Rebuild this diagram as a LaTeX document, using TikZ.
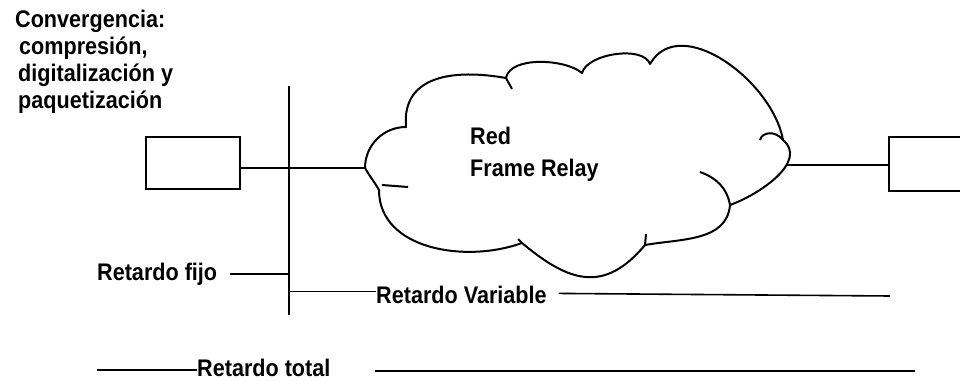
\documentclass[tikz,border=0pt]{standalone}
\usepackage{fontspec}
\setmainfont{Liberation Sans}[FakeStretch=0.9]
\begin{document}
\begin{tikzpicture}[x=1pt,y=1pt,
  lbl/.style={font=\fontsize{24}{28}\selectfont\bfseries, inner sep=0pt, text=black},
  boxnode/.style={draw=black, line width=2pt, rectangle, inner sep=0pt, fill=white},
  conn/.style={draw=black, line width=1.6pt},
  cloudline/.style={draw=black, line width=2pt, line join=round}]
\useasboundingbox (0,0) rectangle (960,380);
\clip (0,0) rectangle (960,380);
\fill[white] (0,0) rectangle (960,380);

% left text block
\node[lbl, anchor=base west] (t1) at (15,352) {Convergencia:};
\node[lbl, anchor=base west] (t2) at (19,325) {compresión,};
\node[lbl, anchor=base west] (t3) at (18,298) {digitalización y};
\node[lbl, anchor=base west] (t4) at (18,271) {paquetización};

% boxes
\node[boxnode, minimum width=94pt, minimum height=52pt] (lbox) at (193,217) {};
\node[boxnode, minimum width=110pt, minimum height=54pt] (rbox) at (944,216) {};

% cloud
\coordinate (cloudL) at (365,212);
\coordinate (cloudR) at (787,215);
\draw[cloudline] (365,212) to[out=90,in=180] (406,253)
  to[out=95,in=170,looseness=1.2] (506,302)
  to[out=80,in=140,looseness=0.75] (582,307)
  to[out=75,in=110,looseness=0.75] (650,316)
  to[out=60,in=100] (783,240)
  to[out=-40,in=20] (730,175)
  to[out=-95,in=10] (645,135)
  to[out=-130,in=-40,looseness=1.3] (522,137)
  to[out=-160,in=-90] (379,190)
  to[out=120,in=-60] cycle;
% inner hooks of the cloud
\draw[cloudline] (506,302) -- (512,291);
\draw[cloudline] (783,240) .. controls (775,250) and (762,248) .. (760,240);
\draw[cloudline] (730,175) to[out=100,in=-20] (700,208);
\draw[cloudline] (382,195) -- (408,193);
\draw[cloudline] (645,135) -- (646,146);
\draw[cloudline] (522,137) -- (518,141);

\node[lbl, anchor=base west] (red) at (470,235) {Red};
\node[lbl, anchor=base west] (fr) at (470,203) {Frame Relay};

% connectors
\draw[conn] (lbox.east |- cloudL) -- (cloudL);
\draw[conn] (cloudR) -- (rbox.west |- cloudR);

% vertical divider
\coordinate (vtop) at (289,294);
\coordinate (vbot) at (289,65);
\draw[line width=2pt] (vtop) -- (vbot);

% retardo fijo
\node[lbl, anchor=base west] (rf) at (97,99) {Retardo fijo};
\draw[conn] ([xshift=13pt,yshift=1pt]rf.east) -- ([yshift=1pt]rf.east -| vtop);

% retardo variable
\node[lbl, anchor=base west] (rv) at (376,77) {Retardo Variable};
\coordinate (rvend) at (890,84);
\draw[conn] ([yshift=3pt]rv.west -| vtop) -- ([yshift=3pt]rv.west);
\draw[conn] ([xshift=12pt,yshift=1pt]rv.east) -- (rvend);

% retardo total
\node[lbl, anchor=base west] (rt) at (197,4) {Retardo total};
\coordinate (rtstart) at (97,10);
\coordinate (rtend) at (915,9);
\draw[conn] (rtstart) -- (rtstart -| rt.west);
\draw[conn] (375,9) -- (rtend);
\end{tikzpicture}
\end{document}
